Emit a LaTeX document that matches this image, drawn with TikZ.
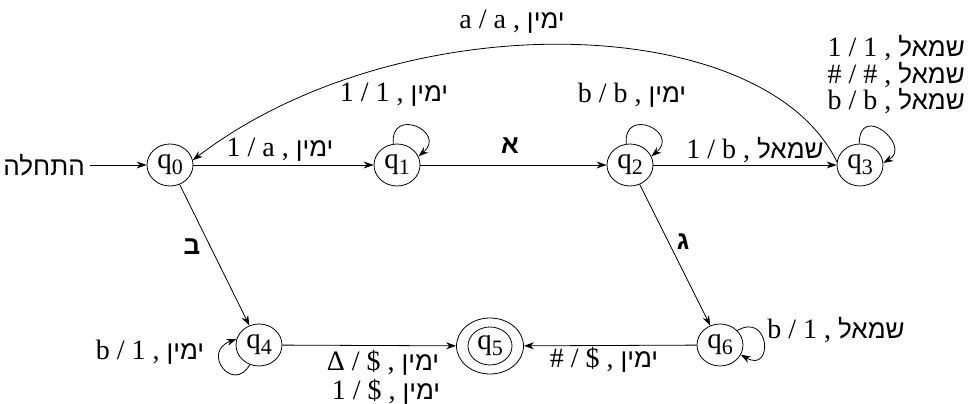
\documentclass[tikz,border=0pt]{standalone}
\usepackage{fontspec}
\setmainfont{Liberation Serif}
\newfontfamily\heb[Script=Hebrew,Scale=0.93]{Liberation Sans}
\TeXXeTstate=1
\usetikzlibrary{arrows.meta,shapes.geometric}
\newcommand\hb[1]{{\heb\beginR #1\endR}}
\newcommand\hbb[1]{{\heb\bfseries\beginR #1\endR}}
\newcommand\qsub[1]{q\raisebox{-6pt}{\fontsize{22}{22}\selectfont #1}}
\begin{document}
\begin{tikzpicture}[x=1pt,y=1pt,
  every node/.style={font=\fontsize{28}{32}\selectfont},
  state/.style={draw, ellipse, minimum width=46pt, minimum height=42pt, inner sep=0pt, line width=0.8pt, font=\fontsize{29}{30}\selectfont},
  tr/.style={-{Stealth[length=10pt,width=7pt]}, line width=0.8pt},
  lbl/.style={inner sep=1pt}]
\useasboundingbox (0,0) rectangle (969,404);

% states
\node[state] (q0) at (170,239) {\qsub{0}};
\node[state] (q1) at (397,239) {\qsub{1}};
\node[state] (q2) at (630,239) {\qsub{2}};
\node[state] (q3) at (860,239) {\qsub{3}};
\node[state] (q4) at (259,59) {\qsub{4}};
\node[state, minimum width=67pt, minimum height=56pt] (q5) at (490,58) {};
\node[state, minimum width=44pt, minimum height=38pt] (q5i) at (q5) {\qsub{5}};
\node[state] (q6) at (720,59) {\qsub{6}};

% start
\node[lbl, anchor=east] (start) at (86,239) {\hb{התחלה}};
\draw[tr] (start.east) ++(4,0) coordinate (s0) (s0) -- (q0.west);

% transitions
\draw[tr] (q0) -- (q1);
\draw[tr] (q1) -- (q2);
\draw[tr] (q2) -- (q3);
\draw[tr] (q0) -- (q4);
\draw[tr] (q2) -- (q6);
\draw[tr] (q4) -- (q5);
\draw[tr] (q6) -- (q5);
\draw[tr] (q3.172) .. controls (763,394) and (400,402) .. (q0.12);

% loops
\draw[tr] (q1.100) .. controls +(95:38) and +(40:38) .. (q1.22);
\draw[tr] (q2.100) .. controls +(95:38) and +(40:38) .. (q2.22);
\draw[tr] (q3.92) .. controls +(90:42) and +(30:34) .. (q3.5);
\draw[tr] (q6.40) .. controls +(30:38) and +(-30:38) .. (q6.-25);
\draw[tr] (q4.-115) .. controls +(-120:34) and +(200:38) .. (q4.165);

% labels
\node[lbl] (l01) at (280,254) {1 / a , \hb{ימין}};
\node[lbl] (l11) at (394,309) {1 / 1 , \hb{ימין}};
\node[lbl] (l12) at (510,258) {\hbb{א}};
\node[lbl] (l22) at (632,309) {b / b , \hb{ימין}};
\node[lbl] (l23) at (755,254) {1 / b , \hb{שמאל}};
\node[lbl] (l30) at (512,382) {a / a , \hb{ימין}};
\node[lbl, anchor=east, align=right, font=\fontsize{28}{25}\selectfont] (l33) at (966,329)
  {1 / 1 , \hb{שמאל}\\\# / \# , \hb{שמאל}\\b / b , \hb{שמאל}};
\node[lbl] (l04) at (192,157) {\hbb{ב}};
\node[lbl] (l26) at (683,162) {\hbb{ג}};
\node[lbl] (l44) at (150,52) {b / 1 , \hb{ימין}};
\node[lbl] (l45a) at (383,41) {Δ / \$ , \hb{ימין}};
\node[lbl] (l45b) at (386,12) {1 / \$ , \hb{ימין}};
\node[lbl] (l65) at (604,44) {\# / \$ , \hb{ימין}};
\node[lbl] (l66) at (836,74) {b / 1 , \hb{שמאל}};
\end{tikzpicture}
\end{document}
